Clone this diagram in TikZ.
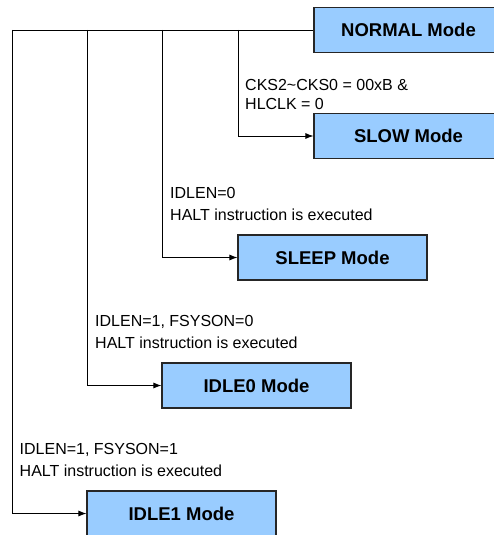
\documentclass[tikz,border=0pt]{standalone}
\usepackage{fontspec}
\setmainfont{Liberation Sans}
\usetikzlibrary{arrows.meta,positioning}

\begin{document}
\begin{tikzpicture}[
    x=1pt,
    y=-1pt,
    modebox/.style={
        rectangle,
        draw=black!85,
        line width=1.1pt,
        fill={rgb,255:red,153;green,204;blue,255},
        minimum height=45pt,
        minimum width=189pt,
        inner sep=0pt,
        font=\fontsize{18.5}{22}\selectfont\bfseries
    },
    cond/.style={
        anchor=base west,
        align=left,
        inner sep=0pt,
        font=\fontsize{16}{22}\selectfont
    },
    line/.style={draw, -{Latex[length=8pt,width=6pt]}, line width=0.9pt},
    wire/.style={draw, line width=0.9pt}
]
\useasboundingbox (0,0) rectangle (494,535);

% Mode blocks
\node [modebox] (normal) at (408.5,30) {NORMAL Mode};
\node [modebox] (slow) at (408.5,136) {SLOW Mode};
\node [modebox] (sleep) at (332.5,257.5) {SLEEP Mode};
\node [modebox] (idle0) at (256.5,385.5) {IDLE0 Mode};
\node [modebox] (idle1) at (181.5,513.5) {IDLE1 Mode};

% Branch points on the top bus
\coordinate (tapslow) at (238,30);
\coordinate (tapsleep) at (162,30);
\coordinate (tapidlezero) at (87,30);
\coordinate (tapidleone) at (12,30);

% Connections
\draw [wire] (normal.west) -- (tapidleone);
\draw [line] (tapslow) |- (slow.west);
\draw [line] (tapsleep) |- (sleep.west);
\draw [line] (tapidlezero) |- (idle0.west);
\draw [line] (tapidleone) |- (idle1.west);

% Conditions (anchored at the baseline of the last line)
\node [cond, font=\fontsize{16}{18.5}\selectfont] (cslow) at (245,109) {CKS2\textasciitilde CKS0 = 00xB \&\\HLCLK = 0};
\node [cond] (csleep) at (170,220) {IDLEN=0\\HALT instruction is executed};
\node [cond] (cidlezero) at (95,348.7) {IDLEN=1, FSYSON=0\\HALT instruction is executed};
\node [cond] (cidleone) at (19.5,476.7) {IDLEN=1, FSYSON=1\\HALT instruction is executed};

\end{tikzpicture}
\end{document}
